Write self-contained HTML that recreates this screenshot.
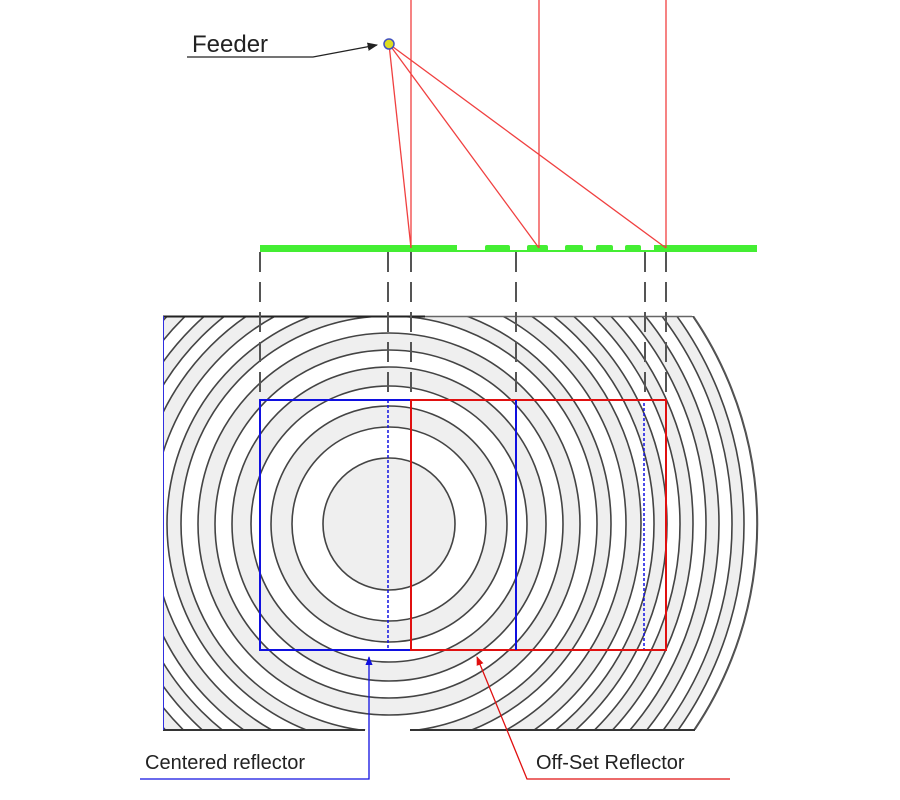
<!DOCTYPE html>
<html><head><meta charset="utf-8"><style>html,body{margin:0;padding:0;background:#fff;overflow:hidden;width:900px;height:800px}svg{display:block}</style></head>
<body>
<svg width="900" height="800" viewBox="0 0 900 800" xmlns="http://www.w3.org/2000/svg">
<defs>
<clipPath id="cr"><rect x="163" y="316" width="700" height="414"/></clipPath>
<clipPath id="cc"><circle cx="389" cy="524" r="369"/></clipPath>
<marker id="ab" viewBox="0 0 10 10" refX="9" refY="5" markerWidth="7" markerHeight="7" orient="auto"><path d="M0,1 L10,5 L0,9 z" fill="#1010e0"/></marker>
<marker id="ar" viewBox="0 0 10 10" refX="9" refY="5" markerWidth="7" markerHeight="7" orient="auto"><path d="M0,1 L10,5 L0,9 z" fill="#e01010"/></marker>
<marker id="ak" viewBox="0 0 10 10" refX="9" refY="5" markerWidth="8" markerHeight="8" orient="auto"><path d="M0,1 L10,5 L0,9 z" fill="#222"/></marker>
</defs>
<g clip-path="url(#cr)"><g clip-path="url(#cc)">
<rect x="0" y="0" width="900" height="800" fill="#fff"/>
<g stroke="#444" stroke-width="1.6">
<circle cx="389" cy="524" r="405" fill="#efefef"/>
<circle cx="389" cy="524" r="393" fill="#fff"/>
<circle cx="389" cy="524" r="380" fill="#efefef"/>
<circle cx="389" cy="524" r="368" fill="#fff"/>
<circle cx="389" cy="524" r="355" fill="#efefef"/>
<circle cx="389" cy="524" r="343" fill="#fff"/>
<circle cx="389" cy="524" r="330" fill="#efefef"/>
<circle cx="389" cy="524" r="317" fill="#fff"/>
<circle cx="389" cy="524" r="304" fill="#efefef"/>
<circle cx="389" cy="524" r="291" fill="#fff"/>
<circle cx="389" cy="524" r="278" fill="#efefef"/>
<circle cx="389" cy="524" r="265" fill="#fff"/>
<circle cx="389" cy="524" r="252" fill="#efefef"/>
<circle cx="389" cy="524" r="237" fill="#fff"/>
<circle cx="389" cy="524" r="222" fill="#efefef"/>
<circle cx="389" cy="524" r="208" fill="#fff"/>
<circle cx="389" cy="524" r="191" fill="#efefef"/>
<circle cx="389" cy="524" r="174" fill="#fff"/>
<circle cx="389" cy="524" r="157" fill="#efefef"/>
<circle cx="389" cy="524" r="138" fill="#fff"/>
<circle cx="389" cy="524" r="118" fill="#efefef"/>
<circle cx="389" cy="524" r="97" fill="#fff"/>
<circle cx="389" cy="524" r="66" fill="#efefef"/>
</g>
</g></g>
<circle cx="389" cy="524" r="368.5" fill="none" stroke="#555" stroke-width="1.5" clip-path="url(#cr)"/>
<line x1="163" y1="316.5" x2="425" y2="316.5" stroke="#222" stroke-width="2"/>
<line x1="425" y1="316.5" x2="692" y2="316.5" stroke="#666" stroke-width="1.5"/>
<line x1="163" y1="730" x2="365" y2="730" stroke="#333" stroke-width="2"/>
<line x1="410" y1="730" x2="695" y2="730" stroke="#333" stroke-width="2"/>
<line x1="163.5" y1="316" x2="163.5" y2="730" stroke="#3030e0" stroke-width="1"/>

<g stroke="#555" stroke-width="2" stroke-dasharray="20,10">
<line x1="260" y1="252" x2="260" y2="400"/>
<line x1="388" y1="252" x2="388" y2="400"/>
<line x1="411" y1="252" x2="411" y2="400"/>
<line x1="516" y1="252" x2="516" y2="400"/>
<line x1="645" y1="252" x2="645" y2="400"/>
<line x1="666" y1="252" x2="666" y2="400"/>
</g>

<g fill="#44ee33">
<rect x="457" y="250" width="200" height="2"/>
<rect x="260" y="245" width="197" height="7"/>
<rect x="485" y="245" width="25" height="7" rx="2"/>
<rect x="527" y="245" width="21" height="7" rx="2"/>
<rect x="565" y="245" width="18" height="7" rx="2"/>
<rect x="596" y="245" width="17" height="7" rx="2"/>
<rect x="625" y="245" width="16" height="7" rx="2"/>
<rect x="654" y="245" width="103" height="7"/>
</g>

<g stroke="#f04040" stroke-width="1.3">
<line x1="411" y1="0" x2="411" y2="248"/>
<line x1="539" y1="0" x2="539" y2="248"/>
<line x1="666" y1="0" x2="666" y2="248"/>
<line x1="389" y1="44" x2="411" y2="248"/>
<line x1="389" y1="44" x2="539" y2="248"/>
<line x1="389" y1="44" x2="666" y2="248"/>
</g>
<circle cx="389" cy="44" r="5" fill="#dddd20" stroke="#4050c0" stroke-width="1.5"/>
<text x="192" y="52" font-family="Liberation Sans, sans-serif" font-size="24" fill="#222">Feeder</text>
<polyline points="187,57 313,57 377,45" fill="none" stroke="#222" stroke-width="1.3" marker-end="url(#ak)"/>

<rect x="260" y="400" width="151" height="250" fill="none" stroke="#1010e0" stroke-width="2"/>
<rect x="411" y="400" width="255" height="250" fill="none" stroke="#e01010" stroke-width="2"/>
<line x1="516" y1="400" x2="516" y2="650" stroke="#1010e0" stroke-width="2"/>
<line x1="388" y1="400" x2="388" y2="650" stroke="#1010e0" stroke-width="1.5" stroke-dasharray="3,2"/>
<line x1="644" y1="403" x2="644" y2="649" stroke="#1010e0" stroke-width="1.5" stroke-dasharray="3,2"/>

<polyline points="140,779 369,779 369,657" fill="none" stroke="#1010e0" stroke-width="1.3" marker-end="url(#ab)"/>
<polyline points="730,779 527,779 477,657" fill="none" stroke="#e01010" stroke-width="1.3" marker-end="url(#ar)"/>
<text x="145" y="769" font-family="Liberation Sans, sans-serif" font-size="20" fill="#222">Centered reflector</text>
<text x="536" y="769" font-family="Liberation Sans, sans-serif" font-size="20" fill="#222">Off-Set Reflector</text>
</svg>
</body></html>
